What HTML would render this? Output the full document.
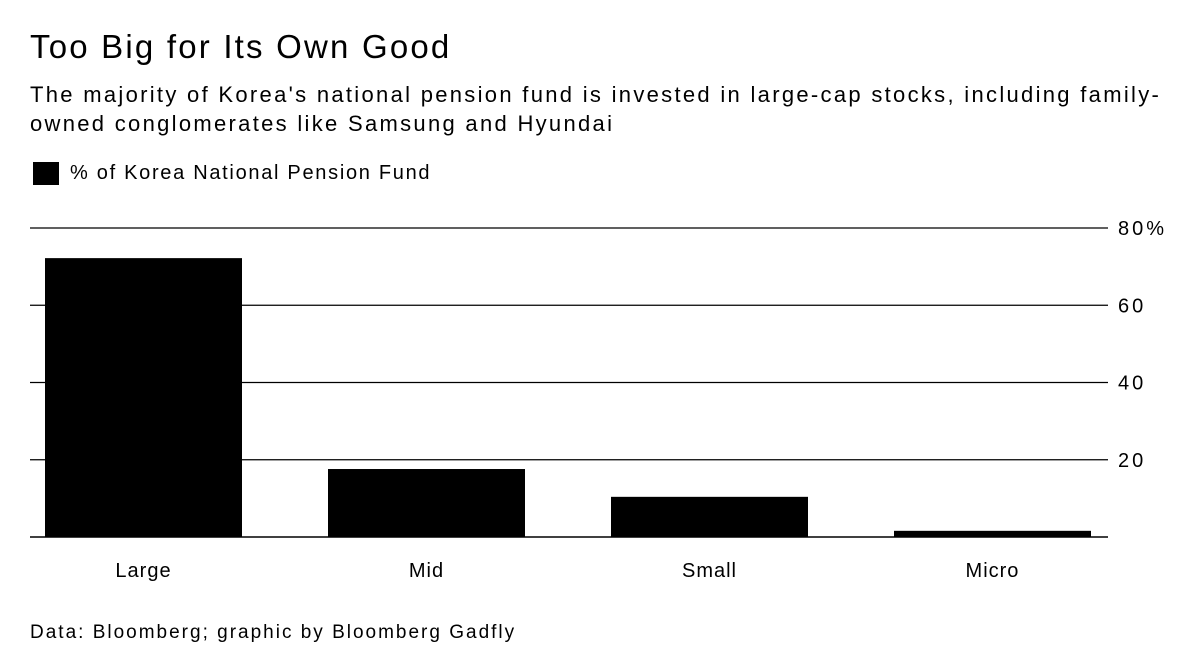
<!DOCTYPE html>
<html><head><meta charset="utf-8"><style>
body{margin:0;background:#fff;font-family:"Liberation Sans",sans-serif;color:#000}
#wrap{position:relative;width:1200px;height:666px;overflow:hidden}
.t{position:absolute;white-space:nowrap}
</style></head><body>
<div id="wrap">
<div class="t" style="left:30px;top:28px;font-size:33px;letter-spacing:2.2px">Too Big for Its Own Good</div>
<div class="t" style="left:30px;top:80px;font-size:22px;line-height:29px;letter-spacing:2.3px">The majority of Korea's national pension fund is invested in large-cap stocks, including family-<br>owned conglomerates like Samsung and Hyundai</div>
<div style="position:absolute;left:33px;top:162px;width:26px;height:23px;background:#000"></div>
<div class="t" style="left:70px;top:162px;font-size:20px;letter-spacing:1.7px">% of Korea National Pension Fund</div>
<svg id="chart" width="1200" height="666" style="position:absolute;left:0;top:0"></svg>
<div class="t" style="left:30px;top:622px;font-size:19px;letter-spacing:2px">Data: Bloomberg; graphic by Bloomberg Gadfly</div>
</div>
<script>
const categories=["Large","Mid","Small","Micro"];
const values=[72.2,17.6,10.4,1.6];
const ticks=[20,40,60,80];
const tickLabels=["20","40","60","80%"];
const svg=document.getElementById('chart');
const NS='http://www.w3.org/2000/svg';
const y0=537,y80=228,left=30,right=1108;
function y(v){return y0-(y0-y80)*v/80;}
function x(i){return 45+i*283;}
const bw=197;
ticks.forEach((t,i)=>{
 const l=document.createElementNS(NS,'line');
 l.setAttribute('x1',left);l.setAttribute('x2',right);l.setAttribute('y1',y(t));l.setAttribute('y2',y(t));
 l.setAttribute('stroke','#000');l.setAttribute('stroke-width','1.3');
 
 
 svg.appendChild(l);
 const tx=document.createElementNS(NS,'text');
 tx.setAttribute('x',1118);tx.setAttribute('y',y(t)+7);tx.setAttribute('font-size','20');
 tx.setAttribute('letter-spacing','3');
 tx.setAttribute('font-family','Liberation Sans, sans-serif');
 tx.textContent=tickLabels[i];
 
 
 svg.appendChild(tx);
});
categories.forEach((c,i)=>{
 const r=document.createElementNS(NS,'rect');
 r.setAttribute('x',x(i));r.setAttribute('width',bw);r.setAttribute('y',y(values[i]));r.setAttribute('height',y0-y(values[i]));
 r.setAttribute('fill','#000');
 
 
 svg.appendChild(r);
 const tx=document.createElementNS(NS,'text');
 tx.setAttribute('x',x(i)+bw/2);tx.setAttribute('y',577);tx.setAttribute('font-size','20');
 tx.setAttribute('letter-spacing','1');
 tx.setAttribute('text-anchor','middle');tx.setAttribute('font-family','Liberation Sans, sans-serif');
 tx.textContent=c;
 
 
 svg.appendChild(tx);
});
const base=document.createElementNS(NS,'line');
base.setAttribute('x1',left);base.setAttribute('x2',right);base.setAttribute('y1',y0);base.setAttribute('y2',y0);
base.setAttribute('stroke','#000');base.setAttribute('stroke-width','1.5');


svg.appendChild(base);
</script>
</body></html>
